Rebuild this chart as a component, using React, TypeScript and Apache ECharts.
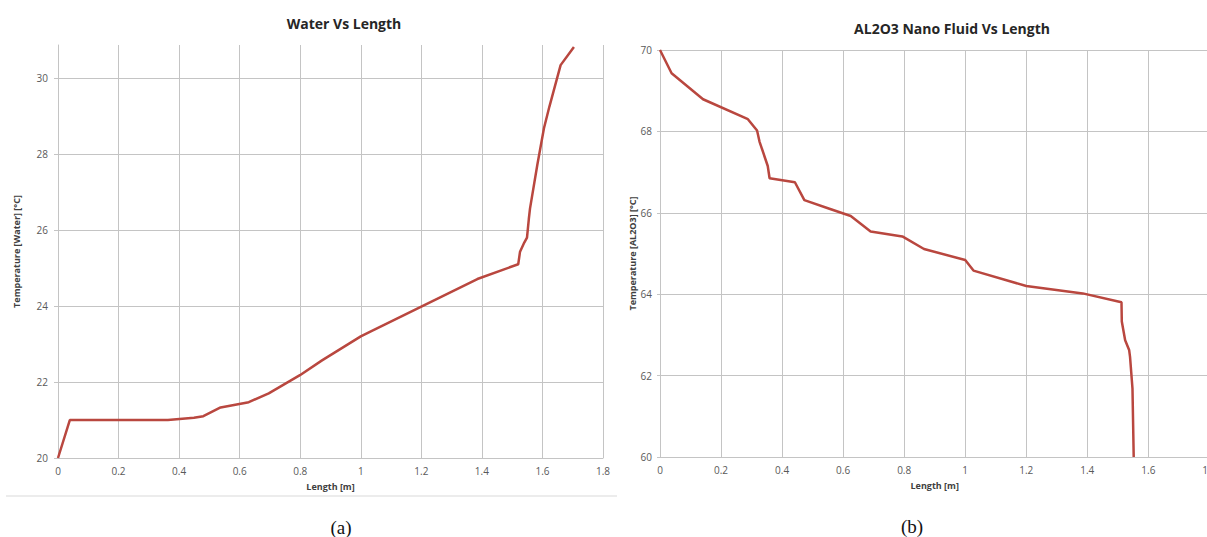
import React, { useEffect, useRef } from "react";
import * as echarts from "echarts";

const waterLength = [0, 0.039, 0.141, 0.289, 0.326, 0.363, 0.449, 0.48, 0.537, 0.63, 0.696, 0.799, 0.872, 1.0, 1.03, 1.385, 1.52, 1.526, 1.54, 1.549, 1.555, 1.559, 1.583, 1.605, 1.623, 1.66, 1.704];
const waterTemp = [20, 21.0, 21.0, 21.0, 21.0, 21.0, 21.06, 21.1, 21.33, 21.47, 21.7, 22.18, 22.57, 23.2, 23.32, 24.71, 25.1, 25.43, 25.67, 25.8, 26.29, 26.57, 27.71, 28.68, 29.25, 30.34, 30.82];

const alLength = [0, 0.038, 0.141, 0.288, 0.318, 0.326, 0.353, 0.359, 0.442, 0.473, 0.555, 0.625, 0.69, 0.794, 0.865, 1.0, 1.027, 1.2, 1.385, 1.512, 1.513, 1.524, 1.537, 1.54, 1.548, 1.552];
const alTemp = [70, 69.43, 68.79, 68.3, 68.02, 67.75, 67.15, 66.85, 66.75, 66.31, 66.1, 65.92, 65.54, 65.42, 65.11, 64.84, 64.58, 64.2, 64.02, 63.8, 63.33, 62.87, 62.63, 62.46, 61.68, 60];

const titles = ["Water Vs Length", "AL2O3 Nano Fluid Vs Length"];
const yNames = ["Temperature [Water] [°C]", "Temperature [AL2O3] [°C]"];
const xName = "Length [m]";
const captions = ["(a)", "(b)"];

const FONT = "'Liberation Sans Narrow', 'Open Sans', sans-serif";
const GRID = "#c4c4c4";
const LINE = "#b9473f";

export default function App() {
  const ref = useRef<HTMLDivElement>(null);
  useEffect(() => {
    if (!ref.current) return;
    const chart = echarts.init(ref.current, null, { renderer: "svg" });
    const axisLabel = { color: "#595959", fontSize: 10, fontFamily: FONT };
    const nameStyle = { color: "#404040", fontSize: 9, fontFamily: FONT, fontWeight: "bold" as const };
    const xAxisCommon = {
      type: "value" as const,
      min: 0,
      max: 1.8,
      interval: 0.2,
      name: xName,
      nameLocation: "middle" as const,
      nameGap: 24,
      nameTextStyle: nameStyle,
      axisLine: { show: true, lineStyle: { color: GRID } },
      axisTick: { show: false },
      axisLabel: { ...axisLabel, margin: 8 },
      splitLine: { show: true, lineStyle: { color: GRID, width: 1 } },
    };
    chart.setOption({
      animation: false,
      backgroundColor: "#ffffff",
      grid: [
        { left: 58, right: 604, top: 45, bottom: 79, outerBoundsMode: "none", containLabel: false },
        { left: 660, right: -2.4, top: 50, bottom: 80, outerBoundsMode: "none", containLabel: false },
      ],
      xAxis: [
        { ...xAxisCommon, gridIndex: 0 },
        { ...xAxisCommon, gridIndex: 1 },
      ],
      yAxis: [
        {
          type: "value",
          gridIndex: 0,
          min: 20,
          max: 30.87,
          interval: 2,
          name: yNames[0],
          nameLocation: "middle",
          nameGap: 37,
          nameTextStyle: nameStyle,
          axisLine: { show: true, lineStyle: { color: GRID } },
          axisTick: { show: true, length: 4, lineStyle: { color: GRID } },
          axisLabel: {
            ...axisLabel,
            margin: 10,
            showMaxLabel: false,
            formatter: (v: number) => (Math.abs(v % 2) < 1e-6 ? String(v) : ""),
          },
          splitLine: { show: true, showMaxLine: false, lineStyle: { color: GRID, width: 1 } },
        },
        {
          type: "value",
          gridIndex: 1,
          min: 60,
          max: 70,
          interval: 2,
          name: yNames[1],
          nameLocation: "middle",
          nameGap: 23,
          nameTextStyle: nameStyle,
          axisLine: { show: true, lineStyle: { color: GRID } },
          axisTick: { show: true, length: 3, lineStyle: { color: GRID } },
          axisLabel: { ...axisLabel, margin: 8 },
          splitLine: { show: true, lineStyle: { color: GRID, width: 1 } },
        },
      ],
      series: [
        {
          type: "line",
          xAxisIndex: 0,
          yAxisIndex: 0,
          data: waterLength.map((x, i) => [x, waterTemp[i]]),
          showSymbol: false,
          symbol: "none",
          lineStyle: { color: LINE, width: 2.5 },
        },
        {
          type: "line",
          xAxisIndex: 1,
          yAxisIndex: 1,
          data: alLength.map((x, i) => [x, alTemp[i]]),
          showSymbol: false,
          symbol: "none",
          lineStyle: { color: LINE, width: 2.5 },
        },
      ],
      graphic: [
        {
          type: "text",
          x: 344,
          y: 23,
          style: {
            text: titles[0],
            fill: "#262626",
            font: `bold 14px ${FONT}`,
            textAlign: "center",
            textVerticalAlign: "middle",
          },
        },
        {
          type: "text",
          x: 952,
          y: 28,
          style: {
            text: titles[1],
            fill: "#262626",
            font: `bold 14px ${FONT}`,
            textAlign: "center",
            textVerticalAlign: "middle",
          },
        },
        {
          type: "line",
          shape: { x1: 6, y1: 496, x2: 617, y2: 496 },
          style: { stroke: "#d9d9d9", lineWidth: 1 },
        },
        {
          type: "text",
          x: 341,
          y: 527,
          style: {
            text: captions[0],
            fill: "#111111",
            font: "19px 'Liberation Serif', 'DejaVu Serif', serif",
            textAlign: "center",
            textVerticalAlign: "middle",
          },
        },
        {
          type: "text",
          x: 912,
          y: 526,
          style: {
            text: captions[1],
            fill: "#111111",
            font: "19px 'Liberation Serif', 'DejaVu Serif', serif",
            textAlign: "center",
            textVerticalAlign: "middle",
          },
        },
      ],
    });
    return () => chart.dispose();
  }, []);
  return (
    <div
      ref={ref}
      style={{ position: "fixed", left: 0, top: 0, width: 1207, height: 537, background: "#fff" }}
    />
  );
}
